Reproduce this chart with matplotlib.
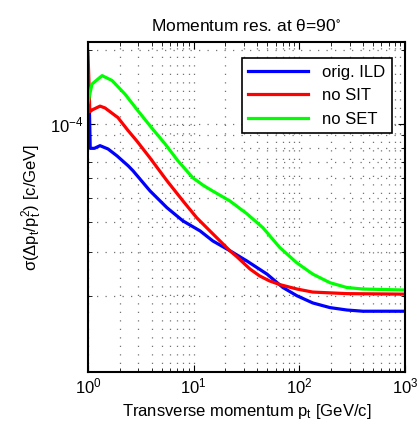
import matplotlib
matplotlib.use("Agg")
import matplotlib.pyplot as plt
import numpy as np

plt.rcParams['font.family'] = ['Liberation Sans', 'DejaVu Sans']
plt.rcParams['mathtext.fontset'] = 'custom'
plt.rcParams['mathtext.rm'] = 'Liberation Sans'
plt.rcParams['mathtext.it'] = 'Liberation Sans:italic'
plt.rcParams['mathtext.default'] = 'regular'

# data (pt in GeV/c, resolution in c/GeV)
pt_ild = [1.0, 1.03, 1.05, 1.15, 1.3, 1.55, 1.88, 2.4, 2.67, 3.86, 5.59, 7.92, 11.5,
          15.2, 22.0, 31.9, 49.4, 70.0, 95.0, 134, 195, 282, 400, 1000]
res_ild = [1.22e-4, 1.18e-4, 7.95e-5, 7.95e-5, 8.15e-5, 7.9e-5, 7.41e-5, 6.75e-5, 6.44e-5,
           5.34e-5, 4.56e-5, 4.03e-5, 3.67e-5, 3.34e-5, 3.05e-5, 2.77e-5, 2.45e-5,
           2.16e-5, 2.0e-5, 1.87e-5, 1.79e-5, 1.75e-5, 1.73e-5, 1.73e-5]

pt_nosit = [1.0, 1.02, 1.04, 1.1, 1.3, 1.45, 1.92, 2.39, 2.91, 3.86, 5.59, 7.92, 10.7,
            15.2, 22.0, 25.7, 34.1, 42.0, 52.0, 65.4, 95.0, 134, 282, 1000]
res_nosit = [1.94e-4, 1.5e-4, 1.12e-4, 1.14e-4, 1.18e-4, 1.16e-4, 1.06e-4, 9.4e-5, 8.5e-5,
             7.27e-5, 5.87e-5, 4.86e-5, 4.15e-5, 3.57e-5, 3.05e-5, 2.88e-5, 2.57e-5,
             2.41e-5, 2.3e-5, 2.22e-5, 2.13e-5, 2.07e-5, 2.04e-5, 2.03e-5]

pt_noset = [1.0, 1.09, 1.36, 1.69, 2.24, 2.97, 4.03, 5.35, 7.1, 9.85, 12.5, 15.5, 22.0,
            31.9, 45.3, 65.4, 95.0, 134, 195, 282, 400, 1000]
res_noset = [1.22e-4, 1.45e-4, 1.57e-4, 1.5e-4, 1.32e-4, 1.13e-4, 9.6e-5, 8.3e-5, 7.07e-5,
             6.03e-5, 5.6e-5, 5.3e-5, 4.86e-5, 4.31e-5, 3.78e-5, 3.14e-5, 2.72e-5,
             2.45e-5, 2.26e-5, 2.16e-5, 2.13e-5, 2.11e-5]

labels = ['orig. ILD', 'no SIT', 'no SET']

fig = plt.figure(figsize=(4.17, 4.29), dpi=100)
ax = fig.add_axes([0.211, 0.133, 0.76, 0.769])

ax.plot(pt_ild, res_ild, color=(0, 0, 1), lw=2.3, label=labels[0])
ax.plot(pt_nosit, res_nosit, color=(1, 0, 0), lw=2.3, label=labels[1])
ax.plot(pt_noset, res_noset, color=(0, 1, 0), lw=2.3, label=labels[2])

ax.set_xscale('log')
ax.set_yscale('log')
ax.set_xlim(1, 1000)
ax.set_ylim(9.8e-6, 2.15e-4)

ax.set_yticks([1e-4])
ax.set_yticks([k * 1e-5 for k in range(2, 10)] + [2e-4], minor=True)
ax.yaxis.set_minor_formatter(matplotlib.ticker.NullFormatter())

ax.grid(True, which='both', color='0.45', linestyle=(0, (1, 5.8)), linewidth=0.9)
ax.tick_params(which='both', direction='in', top=True, right=True, labelsize=12)
ax.tick_params(which='major', length=5)
ax.tick_params(which='minor', length=3)
for s in ax.spines.values():
    s.set_linewidth(1.5)

ax.set_title(r'Momentum res. at θ=90$^{\circ}$', fontsize=12.5, pad=8)
ax.set_xlabel(r'Transverse momentum $p_t$ [GeV/c]', fontsize=12)
ax.set_ylabel(r'$\sigma(\Delta p_t/p_t^2)$ [c/GeV]', fontsize=12)

leg = ax.legend(loc='upper right', bbox_to_anchor=(0.984, 0.976), fontsize=12,
                fancybox=False, edgecolor='black', framealpha=1, handlelength=3.6,
                borderpad=0.4, labelspacing=0.5)
leg.get_frame().set_linewidth(1.2)

fig.savefig('out.png', dpi=100)
